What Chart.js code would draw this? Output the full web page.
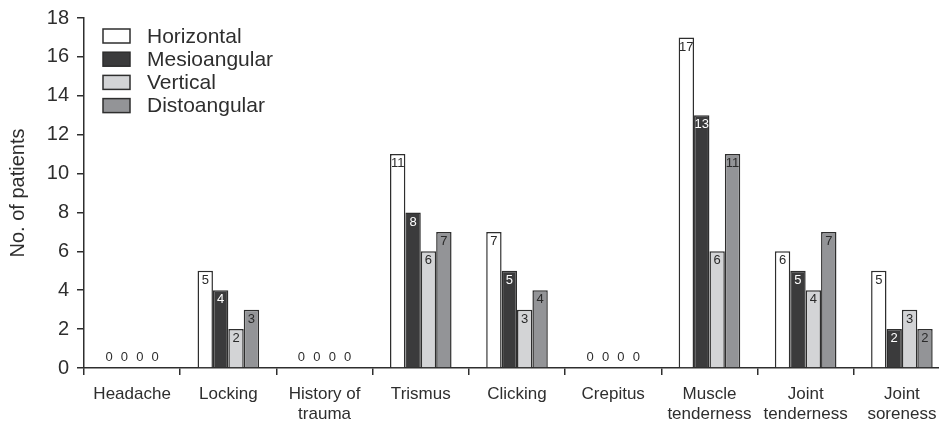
<!DOCTYPE html>
<html>
<head>
<meta charset="utf-8">
<script src="https://cdn.jsdelivr.net/npm/chart.js@4.4.0/dist/chart.umd.min.js"></script>
<style>
  html, body { margin: 0; padding: 0; background: #ffffff; overflow: hidden; }
  #wrap { width: 950px; height: 423px; position: relative; }
</style>
</head>
<body>
<div id="wrap"><canvas id="c" width="950" height="423"></canvas></div>
<script>
// ---- data ----
const categories = [
  'Headache', 'Locking', ['History of', 'trauma'], 'Trismus', 'Clicking',
  'Crepitus', ['Muscle', 'tenderness'], ['Joint', 'tenderness'], ['Joint', 'soreness']
];
const seriesNames = ['Horizontal', 'Mesioangular', 'Vertical', 'Distoangular'];
const horizontal   = [0, 5, 0, 11, 7, 0, 17, 6, 5];
const mesioangular = [0, 4, 0, 8, 5, 0, 13, 5, 2];
const vertical     = [0, 2, 0, 6, 3, 0, 6, 4, 3];
const distoangular = [0, 3, 0, 7, 4, 0, 11, 7, 2];
const yTicks = [0, 2, 4, 6, 8, 10, 12, 14, 16, 18];

// ---- styles ----
const fills = ['#ffffff', '#3b3b3c', '#d3d4d6', '#939497'];
const labelColors = ['#2a2a2a', '#ffffff', '#2a2a2a', '#2a2a2a'];
const ink = '#2e2e2e';
const FONT = "'Liberation Sans', Arial, sans-serif";

const seriesValues = [horizontal, mesioangular, vertical, distoangular];

const datasets = seriesValues.map((vals, i) => ({
  label: seriesNames[i],
  data: vals,
  backgroundColor: fills[i],
  borderColor: ink,
  borderWidth: 1.5,
  borderSkipped: 'bottom',
  categoryPercentage: 0.64,
  barPercentage: 1.0
}));

const valueLabels = {
  id: 'valueLabels',
  afterDatasetsDraw(chart) {
    const ctx = chart.ctx;
    ctx.save();
    ctx.font = '13px ' + FONT;
    ctx.textAlign = 'center';
    chart.data.datasets.forEach((ds, di) => {
      const meta = chart.getDatasetMeta(di);
      meta.data.forEach((el, idx) => {
        const v = ds.data[idx];
        if (v > 0) {
          ctx.fillStyle = labelColors[di];
          ctx.textBaseline = 'top';
          ctx.fillText(String(v), el.x, el.y + 3);
        } else {
          ctx.fillStyle = ink;
          ctx.textBaseline = 'bottom';
          ctx.fillText(String(v), el.x, el.base - 4);
        }
      });
    });
    ctx.restore();
  }
};

const customLegend = {
  id: 'customLegend',
  afterDraw(chart) {
    const ctx = chart.ctx;
    ctx.save();
    ctx.font = '21px ' + FONT;
    ctx.textAlign = 'left';
    ctx.textBaseline = 'middle';
    chart.data.datasets.forEach((ds, i) => {
      const cy = 36 + i * 23.2;
      ctx.fillStyle = ds.backgroundColor;
      ctx.fillRect(103, cy - 7, 27, 14);
      ctx.strokeStyle = ink;
      ctx.lineWidth = 1.5;
      ctx.strokeRect(103, cy - 7, 27, 14);
      ctx.fillStyle = ink;
      ctx.fillText(ds.label, 147, cy + 1);
    });
    ctx.restore();
  }
};

new Chart(document.getElementById('c'), {
  type: 'bar',
  data: { labels: categories, datasets },
  options: {
    responsive: false,
    animation: false,
    devicePixelRatio: 1,
    layout: { padding: { top: 18, right: 0, bottom: 0, left: 0 } },
    plugins: {
      legend: { display: false },
      tooltip: { enabled: false }
    },
    scales: {
      x: {
        grid: {
          offset: true,
          drawOnChartArea: false,
          drawTicks: true,
          tickLength: 7,
          color: ink,
          lineWidth: 1.5
        },
        border: { color: ink, width: 1.5 },
        ticks: {
          color: ink,
          font: { family: FONT, size: 17, lineHeight: 1.18 },
          padding: 9,
          maxRotation: 0,
          autoSkip: false
        },
        afterFit(scale) { scale.height = 55; }
      },
      y: {
        min: 0,
        max: 18,
        afterBuildTicks(scale) { scale.ticks = yTicks.map(v => ({ value: v })); },
        grid: {
          drawOnChartArea: false,
          drawTicks: true,
          tickLength: 7,
          color: ink,
          lineWidth: 1.5
        },
        border: { color: ink, width: 1.5 },
        ticks: {
          color: ink,
          font: { family: FONT, size: 20 },
          padding: 8
        },
        title: {
          display: true,
          text: 'No. of patients',
          color: ink,
          font: { family: FONT, size: 20 },
          padding: { top: 6, bottom: 0 }
        },
        afterFit(scale) { scale.width = 84; scale.paddingTop = 0; scale.paddingBottom = 0; }
      }
    }
  },
  plugins: [valueLabels, customLegend]
});
</script>
</body>
</html>
